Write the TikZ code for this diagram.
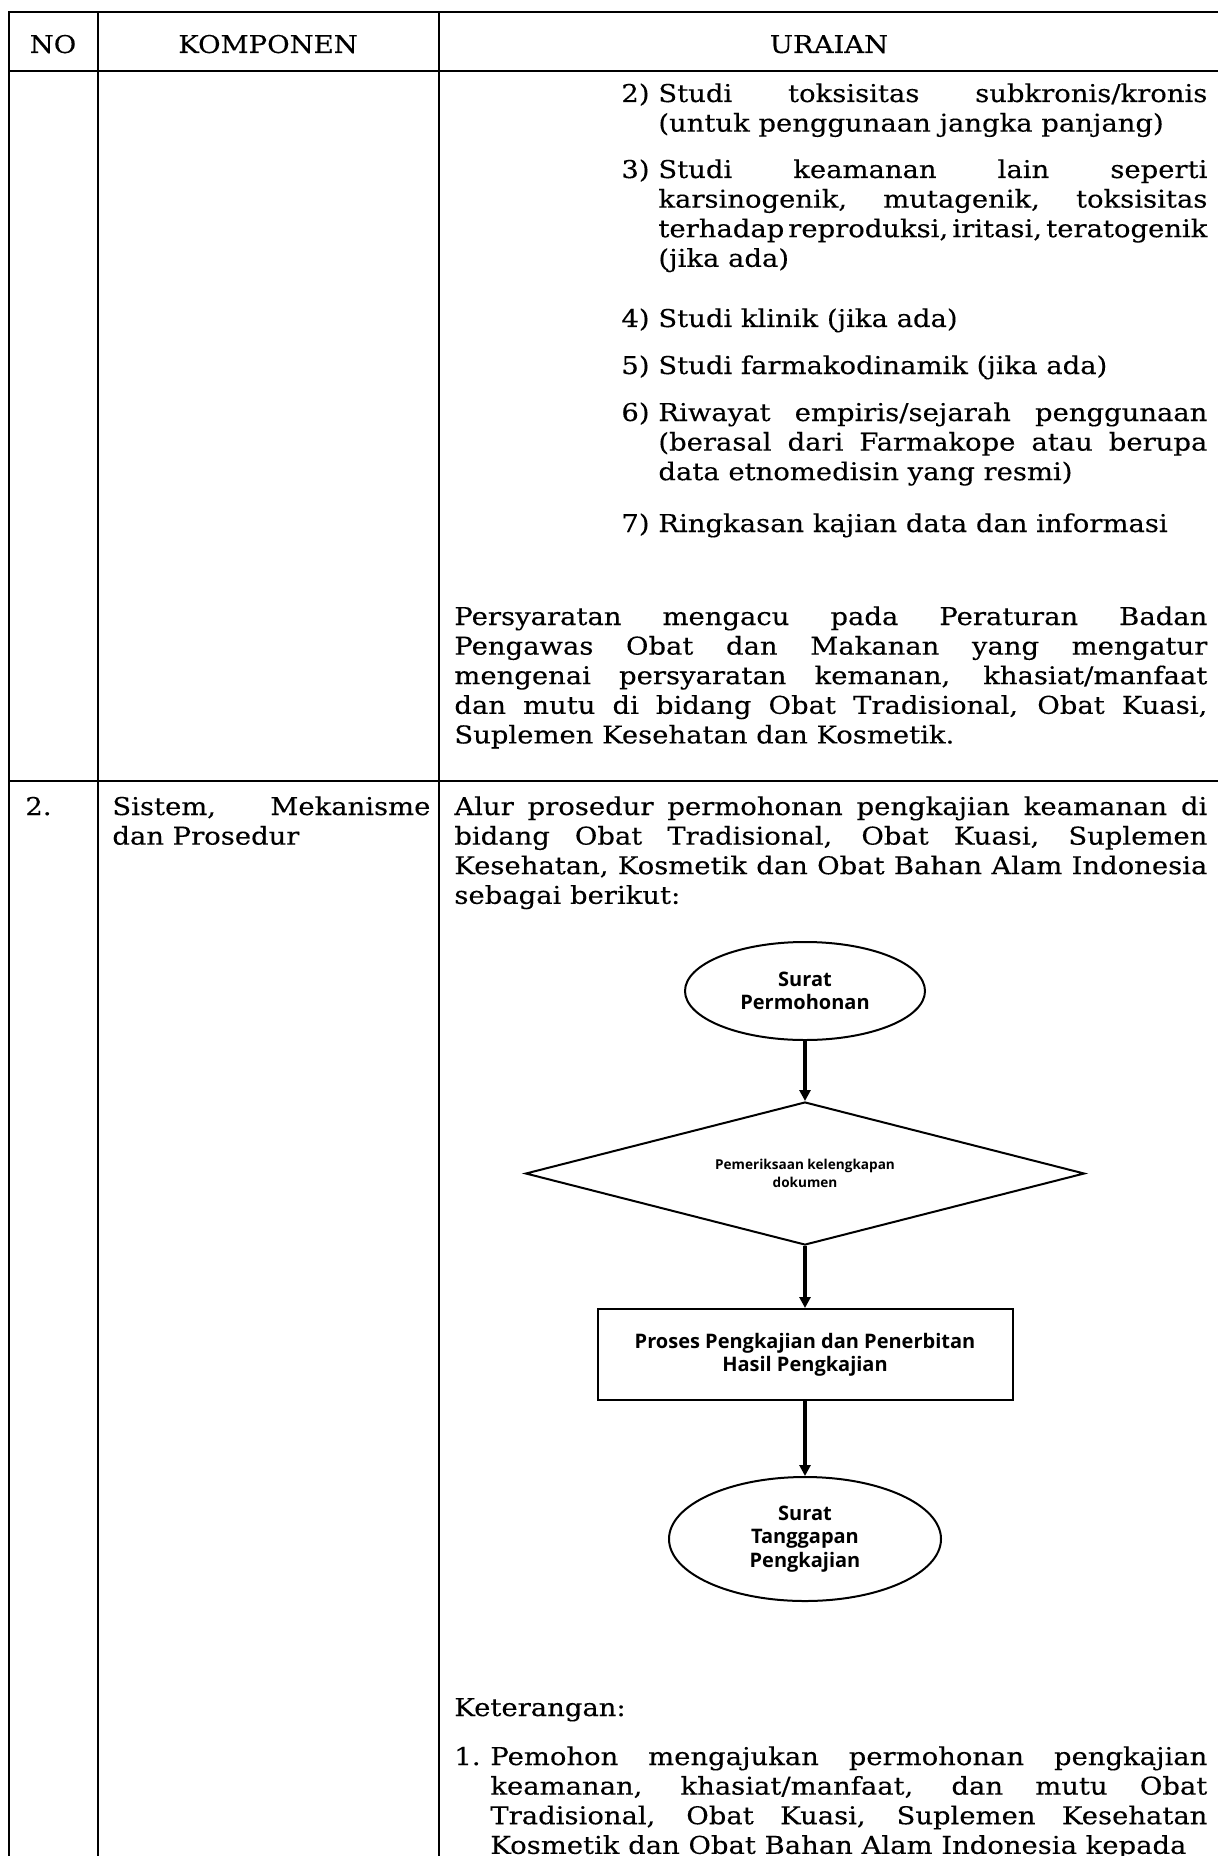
\documentclass[tikz,border=0pt]{standalone}
\usepackage{fontspec}
\setmainfont{DejaVu Serif}[FakeStretch=1.12, FakeBold=0.25]
\newfontfamily\bagansans{Open Sans}
\usetikzlibrary{positioning,shapes.geometric,arrows.meta}

\tolerance=10000
\hbadness=10000
\hyphenpenalty=10000
\newcommand{\isifont}{\fontsize{12.25pt}{14.8pt}\selectfont}
\newcommand{\baganfont}{\bagansans\bfseries\fontsize{10pt}{11.6pt}\selectfont}
\newcommand{\LebarItem}{274.5pt}
\newcommand{\LebarUraian}{376.5pt}
\newcommand{\LebarKet}{358.5pt}
\newcommand{\LebarKomponen}{159pt}

\begin{document}
\begin{tikzpicture}[x=0.5pt, y=-0.5pt,
	teks/.style={anchor=base west, inner sep=0pt, font=\isifont},
	paragraf/.style={teks, text width=#1, align=justify},
	judul/.style={anchor=base, inner sep=0pt, font=\isifont},
	garis/.style={line width=1pt},
	bagan/.style={draw, line width=1pt, font=\baganfont, align=center, inner sep=0pt},
	ujung/.style={bagan, ellipse},
	periksa/.style={bagan, diamond, aspect=3.9, font=\bagansans\bfseries\fontsize{6.8pt}{9pt}\selectfont},
	proses/.style={bagan, rectangle},
	alur/.style={-{Triangle[length=5.5pt,width=5.5pt]}, line width=1.6pt}]
		\useasboundingbox (0,0) rectangle (1218,1856);
		% tabel
		\draw[garis] (1219,12) -- (9,12) -- (9,1856);
		\draw[garis] (9,71) -- (1219,71);
		\draw[garis] (9,781) -- (1219,781);
		\draw[garis] (98,12) -- (98,1856);
		\draw[garis] (439,12) -- (439,1856);
		% kepala tabel
		\node[judul] (no) at (53,53) {NO};
		\node[judul] (komponen) at (268,53) {KOMPONEN};
		\node[judul] (uraian) at (829,53) {URAIAN};
		% baris 1
		\node[teks] (n2) at (621,102) {2)};
		\node[paragraf=\LebarItem] (item2) at (658,102) {Studi toksisitas subkronis/kronis\linebreak (untuk penggunaan jangka panjang)};
		\node[teks] (n3) at (621,178) {3)};
		\node[paragraf=\LebarItem] (item3) at (658,178) {Studi keamanan lain seperti\linebreak karsinogenik, mutagenik, toksisitas\linebreak {\spaceskip=0.13em plus 1em minus 0.05em\relax terhadap reproduksi, iritasi, teratogenik}\linebreak (jika ada)};
		\node[teks] (n4) at (621,327) {4)};
		\node[teks] (item4) at (658,327) {Studi klinik (jika ada)};
		\node[teks] (n5) at (621,374) {5)};
		\node[teks] (item5) at (658,374) {Studi farmakodinamik (jika ada)};
		\node[teks] (n6) at (621,421) {6)};
		\node[paragraf=\LebarItem] (item6) at (658,421) {Riwayat empiris/sejarah penggunaan\linebreak (berasal dari Farmakope atau berupa\linebreak data etnomedisin yang resmi)};
		\node[teks] (n7) at (621,532) {7)};
		\node[teks] (item7) at (658,532) {Ringkasan kajian data dan informasi};
		\node[paragraf=\LebarUraian] (persyaratan) at (454,625) {Persyaratan mengacu pada Peraturan Badan\linebreak Pengawas Obat dan Makanan yang mengatur\linebreak mengenai persyaratan kemanan, khasiat/manfaat\linebreak dan mutu di bidang Obat Tradisional, Obat Kuasi,\linebreak Suplemen Kesehatan dan Kosmetik.};
		% baris 2
		\node[teks] (nomor2) at (25,815) {2.};
		\node[paragraf=\LebarKomponen] (sistem) at (112,815) {Sistem, Mekanisme\linebreak dan Prosedur};
		\node[paragraf=\LebarUraian] (alurteks) at (454,815) {Alur prosedur permohonan pengkajian keamanan di\linebreak bidang Obat Tradisional, Obat Kuasi, Suplemen\linebreak Kesehatan, Kosmetik dan Obat Bahan Alam Indonesia\linebreak sebagai berikut:};
		% bagan alur
		\node[ujung, minimum width=120pt, minimum height=49pt] (permohonan) at (805,991) {Surat\\Permohonan};
		\node[periksa, minimum width=279.5pt, minimum height=71.5pt, below=30pt of permohonan] (kelengkapan) {Pemeriksaan kelengkapan\\dokumen};
		\node[proses, minimum width=207.5pt, minimum height=45.5pt, below=31pt of kelengkapan] (pengkajian) {Proses Pengkajian dan Penerbitan\\Hasil Pengkajian};
		\node[ujung, minimum width=136pt, minimum height=62pt, below=37.5pt of pengkajian] (tanggapan) {Surat\\Tanggapan\\Pengkajian};
		\draw[alur] (permohonan) -- (kelengkapan);
		\draw[alur] (kelengkapan) -- (pengkajian);
		\draw[alur] (pengkajian) -- (tanggapan);
		% keterangan
		\node[teks] (keterangan) at (454,1716) {Keterangan:};
		\node[teks] (nket1) at (454,1765) {1.};
		\node[paragraf=\LebarKet] (ket1) at (490,1765) {\parfillskip=0pt Pemohon mengajukan permohonan pengkajian\linebreak keamanan, khasiat/manfaat, dan mutu Obat\linebreak Tradisional, Obat Kuasi, Suplemen Kesehatan\linebreak Kosmetik dan Obat Bahan Alam Indonesia kepada};
\end{tikzpicture}
\end{document}
